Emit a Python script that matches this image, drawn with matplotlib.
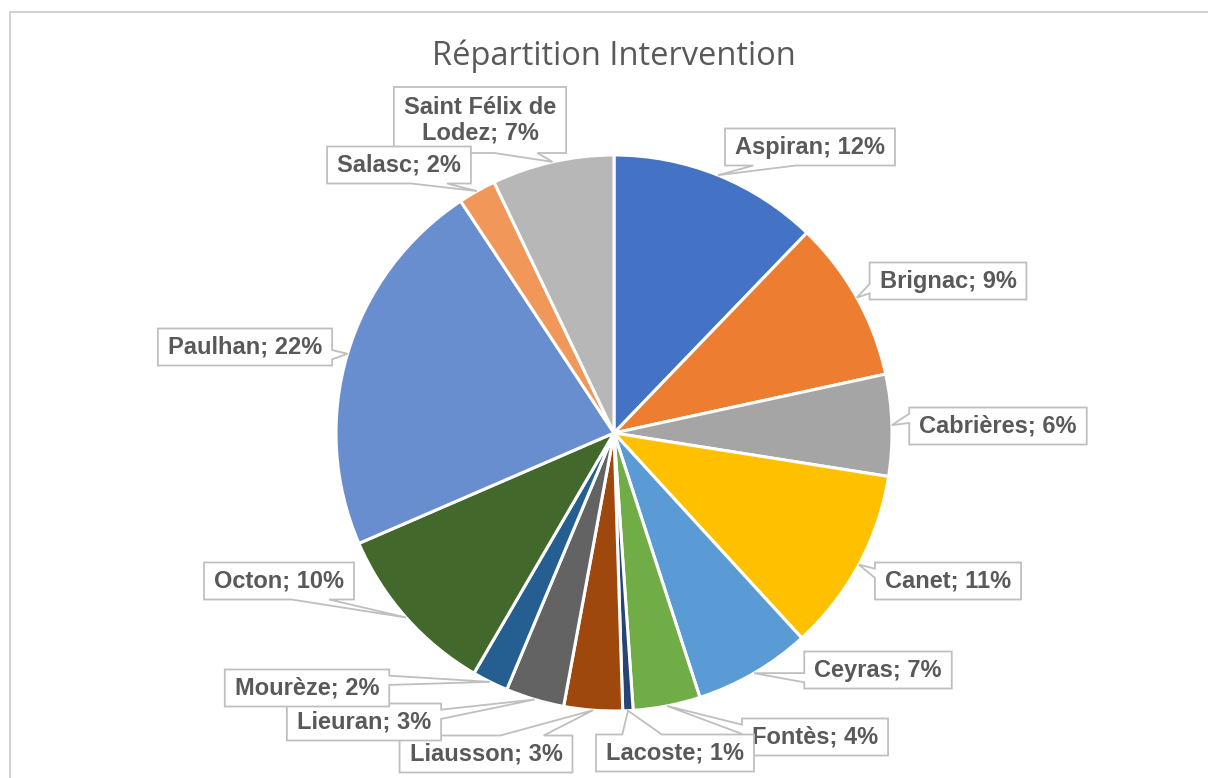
import matplotlib
matplotlib.use('Agg')
import matplotlib.pyplot as plt
from matplotlib.patches import Polygon
import numpy as np

# data
communes = ['Aspiran', 'Brignac', 'Cabrières', 'Canet', 'Ceyras', 'Fontès', 'Lacoste',
            'Liausson', 'Lieuran', 'Mourèze', 'Octon', 'Paulhan', 'Salasc',
            'Saint Félix de\nLodez']
parts = [12.2, 9.4, 5.9, 10.7, 6.8, 3.9, 0.6, 3.4, 3.4, 2.1, 10.1, 22.2, 2.2, 7.1]
colors = ['#4472C4', '#ED7D31', '#A5A5A5', '#FFC000', '#5B9BD5', '#70AD47', '#264478',
          '#9E480E', '#636363', '#255E91', '#43682B', '#698ED0', '#F1975A', '#B7B7B7']

# label box centres (pixels, from top-left)
label_pos = [(810, 147), (948, 281), (998, 426), (948, 581), (878, 670), (815, 737),
             (675, 753), (486, 754), (364, 722), (307, 688), (279, 581), (245, 347),
             (399, 165), (480, 120)]
# drawing order of the labels (Saint Félix sits under Salasc)
label_order = [0, 1, 2, 3, 4, 5, 6, 7, 8, 9, 10, 11, 13, 12]

W, H = 1208, 778
cx, cy, r = 614, 433, 278
grey = '#595959'
line_c = '#BFBFBF'

fig = plt.figure(figsize=(W / 100, H / 100), dpi=100)
ax = fig.add_axes([0, 0, 1, 1])

ax.pie(parts, colors=colors, startangle=90, counterclock=False,
       center=(cx, H - cy), radius=r,
       wedgeprops=dict(edgecolor='white', linewidth=2.2))
ax.set_xlim(0, W)
ax.set_ylim(0, H)
ax.set_aspect('auto')
ax.axis('off')

# chart border (cropped on right/bottom)
ax.plot([10, 10, W], [0, H - 12, H - 12], color='#C8C8C8', lw=1.2, zorder=1)

ax.text(cx, H - 56, 'Répartition Intervention', ha='center', va='center',
        fontsize=23.5, color=grey, family='Open Sans')


def callout(x0, y0, x1, y1, tip):
    # rectangle + wedge, screen coords (y down)
    w, h = x1 - x0, y1 - y0
    mx, my = (x0 + x1) / 2, (y0 + y1) / 2
    dx, dy = tip[0] - mx, tip[1] - my
    if abs(dx) / (w / 2) > abs(dy) / (h / 2):
        side = 'left' if dx < 0 else 'right'
        fr = (2 / 12, 5 / 12) if dy < 0 else (7 / 12, 10 / 12)
    else:
        side = 'top' if dy < 0 else 'bottom'
        fr = (2 / 12, 5 / 12) if dx < 0 else (7 / 12, 10 / 12)
    pts = [(x0, y0)]
    if side == 'top':
        pts += [(x0 + fr[0] * w, y0), tip, (x0 + fr[1] * w, y0)]
    pts.append((x1, y0))
    if side == 'right':
        pts += [(x1, y0 + fr[0] * h), tip, (x1, y0 + fr[1] * h)]
    pts.append((x1, y1))
    if side == 'bottom':
        pts += [(x0 + fr[1] * w, y1), tip, (x0 + fr[0] * w, y1)]
    pts.append((x0, y1))
    if side == 'left':
        pts += [(x0, y0 + fr[1] * h), tip, (x0, y0 + fr[0] * h)]
    return [(px, H - py) for px, py in pts]


renderer = fig.canvas.get_renderer()
total = sum(parts)
angles = np.cumsum([0] + [v / total * 360 for v in parts])
for k, i in enumerate(label_order):
    name, v = communes[i], parts[i]
    mid = np.radians((angles[i] + angles[i + 1]) / 2)
    tip = (cx + r * np.sin(mid), cy - r * np.cos(mid))
    lx, ly = label_pos[i]
    txt = ax.text(lx, H - ly, f'{name}; {round(v / total * 100)}%', ha='center',
                  va='center', fontsize=17, fontweight='bold', color=grey,
                  family='Liberation Sans', zorder=10 + 2 * k + 1, linespacing=1.15)
    bb = txt.get_window_extent(renderer)
    bw = bb.width + 20
    bh = 66 if '\n' in name else 37
    poly = callout(lx - bw / 2, ly - bh / 2, lx + bw / 2, ly + bh / 2, tip)
    ax.add_patch(Polygon(poly, closed=True, facecolor='white', edgecolor=line_c,
                         lw=1.3, zorder=10 + 2 * k))

fig.savefig('out.png', dpi=100)
